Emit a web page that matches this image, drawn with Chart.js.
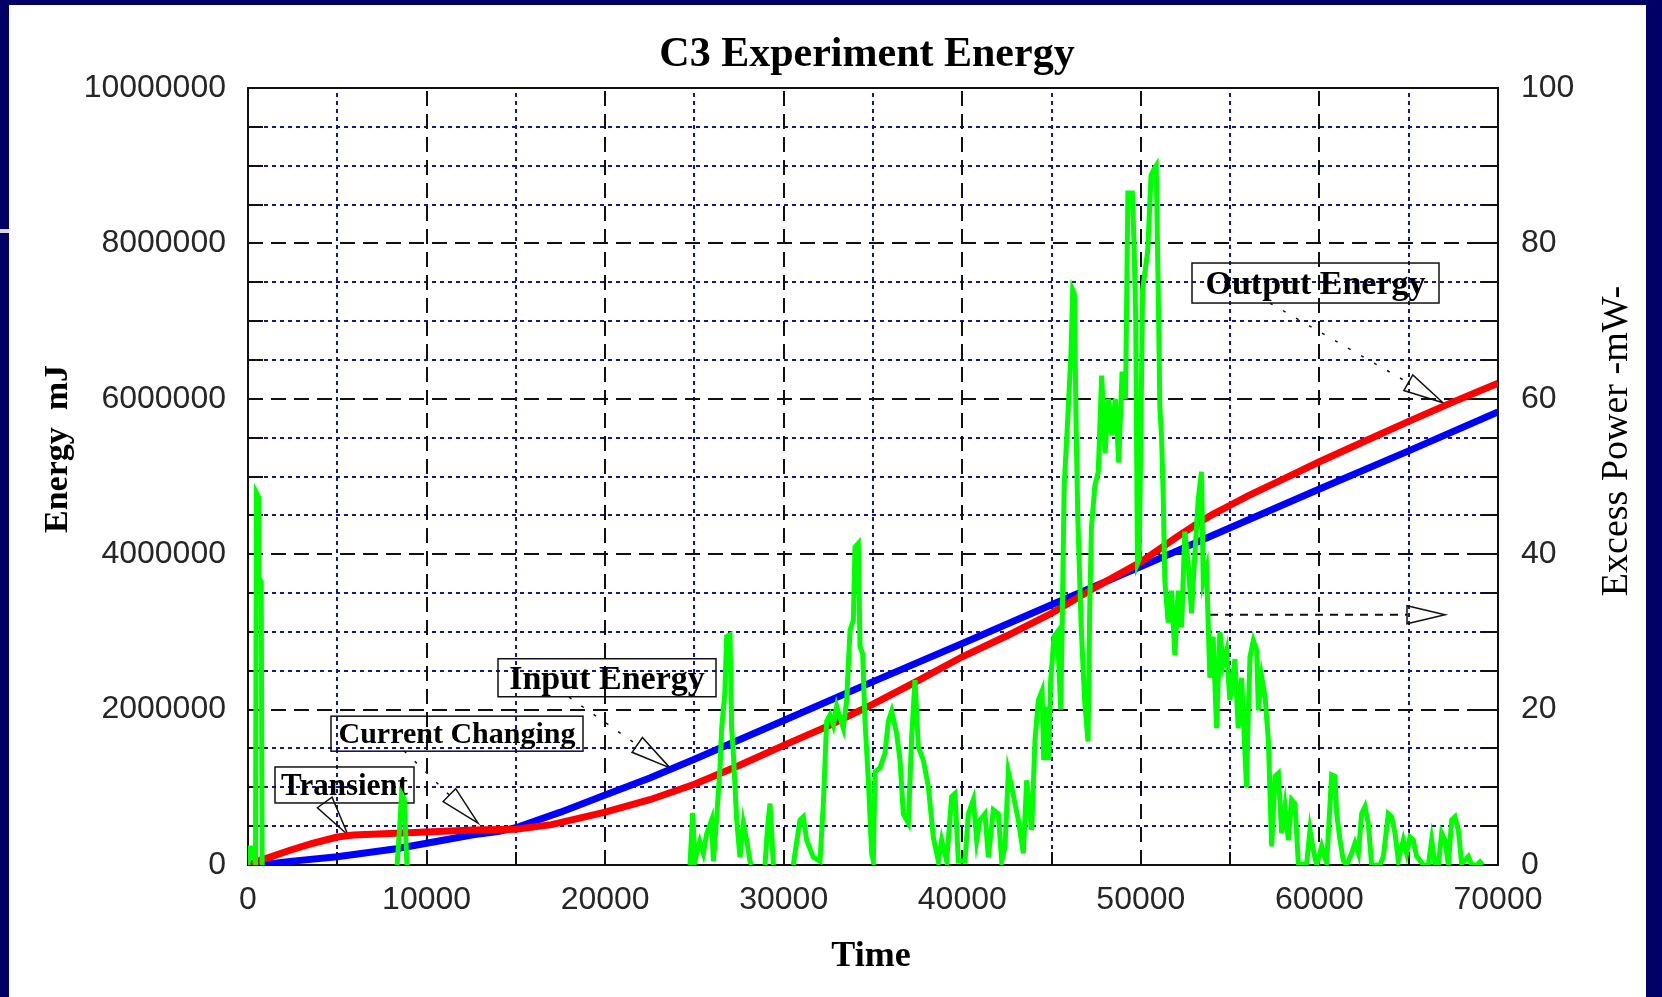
<!DOCTYPE html>
<html lang="en">
<head>
  <meta charset="UTF-8">
  <title>C3 Experiment Energy</title>
  <script src="https://cdn.jsdelivr.net/npm/chart.js"></script>
  <style>
    html, body { margin: 0; padding: 0; }
    body {
      background-color: #000066; /* navy slide frame */
      width: 1662px;
      height: 997px;
      overflow: hidden;
      position: relative;
    }
    #chart-container {
      position: absolute;
      left: 9px;
      top: 5px;
      width: 1637px;
      height: 992px;
      background: #ffffff;
    }
    #notch {
      position: absolute;
      left: 0;
      top: 229px;
      width: 9px;
      height: 4px;
      background: #d8d8e0;
    }
  </style>
</head>
<body>
  <div id="notch"></div>
  <div id="chart-container">
    <canvas id="energyChart"></canvas>
  </div>
  <script>
    // tick labels
    const timeLabels = [0, 10000, 20000, 30000, 40000, 50000, 60000, 70000];
    const energyLabels = [0, 2000000, 4000000, 6000000, 8000000, 10000000];
    const powerLabels = [0, 20, 40, 60, 80, 100];

    // Input energy (blue, left axis)
    const inputTime = [600, 2500, 5000, 8300, 10000, 12600, 14000, 15000, 17500, 20000,
      22500, 25000, 30000, 35000, 40000, 45000, 50000, 55000, 60000, 65000, 70000];
    const inputEnergy = [0, 50000, 105000, 210000, 280000, 390000, 430000, 480000, 680000, 900000,
      1120000, 1360000, 1860000, 2360000, 2850000, 3350000, 3840000, 4340000, 4840000, 5330000, 5830000];

    // Output energy (red, left axis)
    const outputTime = [0, 700, 2350, 3650, 5000, 5900, 8300, 12600, 15000, 17000,
      20000, 22500, 25000, 27500, 30000, 32500, 35000, 37500, 40000, 42500,
      45000, 47500, 50000, 51000, 52000, 53000, 54000, 55000, 56000, 57000,
      58000, 60000, 62500, 65000, 67500, 70000];
    const outputEnergy = [0, 60000, 190000, 280000, 360000, 385000, 410000, 450000, 460000, 520000,
      680000, 840000, 1040000, 1280000, 1540000, 1790000, 2070000, 2370000, 2680000, 2950000,
      3240000, 3580000, 3900000, 4060000, 4220000, 4370000, 4510000, 4630000, 4750000, 4860000,
      4970000, 5190000, 5450000, 5710000, 5960000, 6200000];

    // Excess power (green, right axis); null = no trace drawn
    const powerTime = [0, 100, 300, 420, 470, 560, 600, 740, 790, 1000,
      8350, 8500, 8600, 8750, 8900, 9000,
      24752, 24901, 25032, 25125, 25300, 25499, 25685, 25965, 26059, 26152,
      26432, 26525, 26700, 26805, 26992, 27085, 27179, 27365, 27552, 27739,
      27925, 28112, 28205, 28500, 28952, 29100, 29232, 29330, 29419, 30000,
      30539, 30632, 30912, 31099, 31285, 31659, 32032, 32219, 32405, 32592,
      32779, 32965, 33339, 33525, 33712, 33899, 33992, 34179, 34272, 34421,
      34552, 34739, 34925, 35019, 35112, 35392, 35672, 35859, 36045, 36325,
      36512, 36699, 36979, 37165, 37352, 37539, 37819, 38099, 38379, 38659,
      38845, 39125, 39405, 39592, 39779, 40152, 40339, 40619, 40805, 40992,
      41272, 41459, 41739, 42019, 42205, 42392, 42579, 42765, 42952, 43139,
      43419, 43605, 43885, 44072, 44259, 44466, 44561, 44725, 44840, 44943,
      45134, 45324, 45515, 45611, 45706, 45897, 46088, 46183, 46278, 46374,
      46469, 46660, 46851, 47042, 47137, 47233, 47424, 47614, 47805, 47996,
      48187, 48378, 48569, 48760, 48950, 49141, 49274, 49523, 49618, 49714,
      49809, 49905, 50000, 50095, 50382, 50572, 50700, 50860, 50971, 51064,
      51157, 51251, 51344, 51531, 51718, 51904, 52091, 52278, 52464, 52651,
      52838, 53024, 53211, 53398, 53491, 53678, 53864, 54051, 54238, 54425,
      54611, 54798, 54985, 55265, 55451, 55638, 55918, 56019, 56112, 56299,
      56485, 56579, 56765, 56952, 57139, 57325, 57512, 57699, 57885, 58072,
      58259, 58445, 58632, 58819, 59005, 59285, 59472, 59659, 59845, 60125,
      60405, 60685, 60872, 60965, 61152, 61339, 61525, 61805, 61992, 62179,
      62365, 62552, 62739, 62925, 63392, 63579, 63859, 64045, 64232, 64419,
      64699, 64885, 65072, 65259, 65445, 65632, 65819, 66099, 66285, 66472,
      66659, 66845, 67032, 67219, 67405, 67592, 67779, 67965, 68152, 68339,
      68525, 68805, 68992, 69141];
    const excessPower = [0, 2.2, 2.2, 0, 47.9, 47.5, 37, 36.5, 0, null,
      0, 5, 9.1, 8.5, 0, null,
      0, 6.7, 0.5, 1.5, 3, 1.5, 4, 5.8, 0.5, 3,
      12.5, 17.6, 22, 29.4, 29.6, 17.6, 14.4, 5.8, 1.0, 5.4,
      3.2, 0.5, 0, null, 0, 5, 7.9, 4, 0, null,
      0, 1.5, 5.8, 6.2, 3.2, 1.0, 0.5, 7.9, 18.5, 19.3,
      18, 20.4, 17.6, 21.2, 30.2, 31.5, 40.9, 41.4, 28.1, 27.2,
      18.5, 10.9, 1.5, 0.5, 12, 12.5, 14.4, 18.5, 19.8, 16.9,
      13.5, 6.6, 5.4, 16.5, 23.8, 15.2, 13.5, 10.1, 3.6, 0.5,
      3.2, 0.5, 8.8, 9.2, 0.5, 0.5, 6.6, 8.4, 3.2, 5.8,
      6.6, 1, 7.1, 6.6, 0.5, 2.3, 12, 10.1, 7.9, 5.8,
      1.5, 10.9, 4.5, 16.1, 21.2, 22.4, 13.5, 20.4, 13.5, 23.5,
      29.4, 30, 20, 33.5, 48.8, 57, 66, 74, 73.5, 56.5,
      44.7, 30.6, 21.2, 15.9, 33, 43.5, 48.8, 50.6, 63, 53,
      60, 55.3, 60, 51.8, 63.5, 60, 86.5, 86.5, 80, 70,
      38.8, 39.4, 55.3, 74, 79, 88.8, 89.4, 90, 74, 58.8,
      55.3, 47.6, 36.5, 31.2, 35.3, 27, 35.3, 30.6, 42.9, 38.8,
      32.4, 40, 47, 50.6, 36.5, 38.2, 24.1, 29.4, 17.6, 30,
      25.9, 27.6, 21.2, 26.5, 17.6, 24.1, 10, 19.9, 26.8, 28.9,
      27.7, 19.9, 24.2, 21.7, 16.1, 2.4, 11.4, 11.8, 4.1, 7.5,
      3.2, 8.4, 7.9, 0.2, 0, 0.2, 4.5, 1.9, 0, 2.4,
      0.2, 11.6, 11.4, 6.6, 3.2, 0.6, 0, 1.5, 2.8, 1.5,
      6.6, 7.5, 5.3, 0, 0, 1.1, 6.6, 6.2, 4.1, 0.6,
      3.2, 1.5, 3.6, 3.2, 1.1, 0.6, 0, 0, 3.2, 0.2,
      0, 4.1, 3.2, 0, 5.8, 6.2, 4.5, 0.2, 0.6, 1.1,
      0, 0, 0.4, 0];

    // callout boxes, placed in data coordinates (time, energy)
    const notes = [
      { text: 'Output Energy', bold: true, size: 34, at: [59780, 7490000], w: 247, h: 40, from: [57232, 7230000], tip: [66920, 5950000] },
      { text: 'Input Energy', bold: true, size: 34, at: [20104, 2410000], w: 218, h: 38, from: [17976, 2160000], tip: [23632, 1250000] },
      { text: 'Current Changing', bold: true, size: 30, at: [11704, 1690000], w: 252, h: 35, from: [8736, 1470000], tip: [12880, 540000] },
      { text: 'Transient', bold: true, size: 31, at: [5404, 1030000], w: 139, h: 36, from: [4312, 800000], tip: [5600, 386000] }
    ];
    const axisPointer = { from: [53872, 3220000], tip: [67032, 3220000] };

    const toXY = (xs, ys) => xs.map((t, i) => ({ x: t, y: ys[i] }));

    function arrowHead(ctx, x0, y0, x1, y1, len, half) {
      const d = Math.hypot(x1 - x0, y1 - y0);
      const ux = (x1 - x0) / d, uy = (y1 - y0) / d;
      const bx = x1 - ux * len, by = y1 - uy * len;
      ctx.beginPath();
      ctx.moveTo(x1, y1);
      ctx.lineTo(bx - uy * half, by + ux * half);
      ctx.lineTo(bx + uy * half, by - ux * half);
      ctx.closePath();
      ctx.stroke();
      return [bx, by];
    }

    // grid, ticks, frame, callouts, titles
    const decorations = {
      id: 'decorations',
      beforeDatasetsDraw(chart) {
        const { ctx, chartArea: a, scales: { x, y } } = chart;
        ctx.save();
        ctx.lineWidth = 2;
        // minor dotted grid
        ctx.strokeStyle = '#16168c';
        ctx.setLineDash([4, 4]);
        for (let t = 5000; t < 70000; t += 5000) {
          if (timeLabels.includes(t)) continue;
          const px = Math.round(x.getPixelForValue(t));
          ctx.beginPath(); ctx.moveTo(px, a.bottom); ctx.lineTo(px, a.top); ctx.stroke();
        }
        for (let e = 500000; e < 10000000; e += 500000) {
          if (energyLabels.includes(e)) continue;
          const py = Math.round(y.getPixelForValue(e));
          ctx.beginPath(); ctx.moveTo(a.left, py); ctx.lineTo(a.right, py); ctx.stroke();
        }
        // major dashed grid
        ctx.strokeStyle = '#111';
        ctx.setLineDash([15, 8]);
        timeLabels.slice(1, -1).forEach(t => {
          const px = Math.round(x.getPixelForValue(t));
          ctx.beginPath(); ctx.moveTo(px, a.bottom); ctx.lineTo(px, a.top); ctx.stroke();
        });
        energyLabels.slice(1, -1).forEach(e => {
          const py = Math.round(y.getPixelForValue(e));
          ctx.beginPath(); ctx.moveTo(a.left, py); ctx.lineTo(a.right, py); ctx.stroke();
        });
        // inward tick marks
        ctx.setLineDash([]);
        for (let e = 500000; e < 10000000; e += 500000) {
          const py = Math.round(y.getPixelForValue(e));
          ctx.beginPath();
          ctx.moveTo(a.left, py); ctx.lineTo(a.left + 15, py);
          ctx.moveTo(a.right, py); ctx.lineTo(a.right - 17, py);
          ctx.stroke();
        }
        for (let t = 5000; t < 70000; t += 5000) {
          const px = Math.round(x.getPixelForValue(t));
          ctx.beginPath(); ctx.moveTo(px, a.bottom); ctx.lineTo(px, a.bottom - 13); ctx.stroke();
        }
        ctx.strokeRect(a.left, a.top, a.right - a.left, a.bottom - a.top);

        // callouts
        ctx.lineWidth = 1.5;
        notes.forEach(n => {
          const cx = x.getPixelForValue(n.at[0]), cy = y.getPixelForValue(n.at[1]);
          const fx = x.getPixelForValue(n.from[0]), fy = y.getPixelForValue(n.from[1]);
          const tx = x.getPixelForValue(n.tip[0]), ty = y.getPixelForValue(n.tip[1]);
          ctx.setLineDash([]);
          const base = arrowHead(ctx, fx, fy, tx, ty, 40, 9);
          ctx.setLineDash([3, 12]);
          ctx.beginPath(); ctx.moveTo(fx, fy); ctx.lineTo(base[0], base[1]); ctx.stroke();
          ctx.setLineDash([]);
          ctx.strokeRect(cx - n.w / 2, cy - n.h / 2, n.w, n.h);
          ctx.fillStyle = '#000';
          ctx.font = (n.bold ? 'bold ' : '') + n.size + 'px "Liberation Serif", "Times New Roman", serif';
          ctx.textAlign = 'center';
          ctx.textBaseline = 'middle';
          ctx.fillText(n.text, cx, cy + 2);
        });
        const px0 = x.getPixelForValue(axisPointer.from[0]), py0 = y.getPixelForValue(axisPointer.from[1]);
        const px1 = x.getPixelForValue(axisPointer.tip[0]), py1 = y.getPixelForValue(axisPointer.tip[1]);
        const pb = arrowHead(ctx, px0, py0, px1, py1, 38, 9);
        ctx.setLineDash([8, 7]);
        ctx.lineWidth = 2;
        ctx.beginPath(); ctx.moveTo(px0, py0); ctx.lineTo(pb[0], pb[1]); ctx.stroke();
        ctx.restore();
      },
      afterDraw(chart) {
        const { ctx, chartArea: a } = chart;
        ctx.save();
        ctx.fillStyle = '#000';
        ctx.textBaseline = 'alphabetic';
        ctx.textAlign = 'center';
        ctx.font = 'bold 42px "Liberation Serif", "Times New Roman", serif';
        ctx.fillText('C3 Experiment Energy', 858, 61);
        ctx.font = 'bold 36px "Liberation Serif", "Times New Roman", serif';
        ctx.fillText('Time', (a.left + a.right) / 2 - 2, 961);
        ctx.translate(58, 444);
        ctx.rotate(-Math.PI / 2);
        ctx.font = 'bold 34px "Liberation Serif", "Times New Roman", serif';
        ctx.fillText('Energy  mJ', 0, 0);
        ctx.restore();
        ctx.save();
        ctx.fillStyle = '#000';
        ctx.textAlign = 'center';
        ctx.translate(1618, 436);
        ctx.rotate(-Math.PI / 2);
        ctx.font = '38px "Liberation Serif", "Times New Roman", serif';
        ctx.fillText('Excess Power -mW-', 0, 0);
        ctx.restore();
      }
    };

    const tickFont = { family: '"Liberation Sans", Arial, sans-serif', size: 32 };

    const ctx = document.getElementById('energyChart').getContext('2d');
    const energyChart = new Chart(ctx, {
      type: 'line',
      data: {
        datasets: [
          {
            label: 'Excess Power',
            data: toXY(powerTime, excessPower),
            yAxisID: 'y2',
            borderColor: '#00ff00',
            borderWidth: 5,
            spanGaps: false
          },
          {
            label: 'Output Energy',
            data: toXY(outputTime, outputEnergy),
            yAxisID: 'y',
            borderColor: '#ff0000',
            borderWidth: 7
          },
          {
            label: 'Input Energy',
            data: toXY(inputTime, inputEnergy),
            yAxisID: 'y',
            borderColor: '#0000ff',
            borderWidth: 7
          }
        ]
      },
      options: {
        responsive: true,
        maintainAspectRatio: false,
        animation: false,
        devicePixelRatio: 1,
        layout: { padding: { top: 83, left: 0, right: 0, bottom: 0 } },
        elements: {
          point: { radius: 0 },
          line: { tension: 0, fill: false }
        },
        scales: {
          x: {
            type: 'linear',
            position: 'bottom',
            min: 0,
            max: 70000,
            grid: { display: false, drawTicks: false },
            border: { display: false },
            ticks: {
              stepSize: 5000,
              autoSkip: false,
              maxRotation: 0,
              padding: 16,
              color: '#262626',
              font: tickFont,
              callback: v => timeLabels.includes(v) ? String(v) : ''
            },
            afterFit: s => { s.height = 132; }
          },
          y: {
            position: 'left',
            min: 0,
            max: 10000000,
            grid: { display: false, drawTicks: false },
            border: { display: false },
            ticks: {
              stepSize: 500000,
              autoSkip: false,
              padding: 22,
              color: '#262626',
              font: tickFont,
              callback: v => energyLabels.includes(v) ? String(v) : ''
            },
            afterFit: s => { s.width = 239; }
          },
          y2: {
            position: 'right',
            min: 0,
            max: 100,
            grid: { display: false, drawTicks: false },
            border: { display: false },
            ticks: {
              stepSize: 5,
              autoSkip: false,
              padding: 23,
              color: '#262626',
              font: tickFont,
              callback: v => powerLabels.includes(v) ? String(v) : ''
            },
            afterFit: s => { s.width = 148; }
          }
        },
        plugins: {
          legend: { display: false },
          tooltip: { enabled: false },
          title: { display: false }
        }
      },
      plugins: [decorations]
    });
  </script>
</body>
</html>
